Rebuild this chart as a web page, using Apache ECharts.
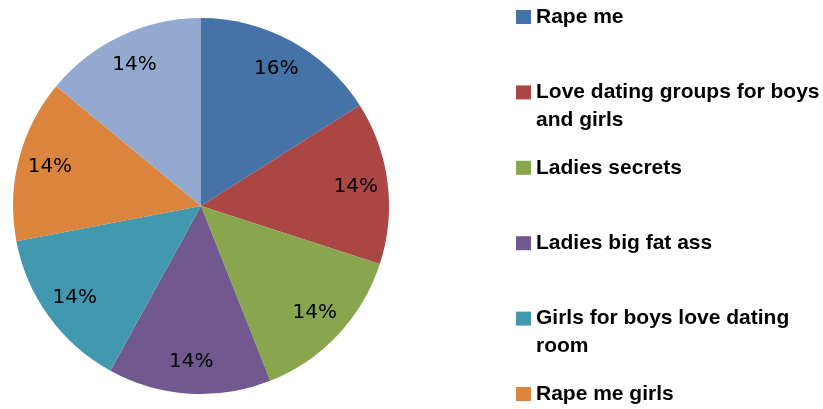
<!DOCTYPE html>
<html><head><meta charset="utf-8">
<script src="https://cdn.jsdelivr.net/npm/echarts@6/dist/echarts.min.js"></script>
<style>html,body{margin:0;padding:0;background:#fff}#c{width:823px;height:409px}</style>
</head><body><div id="c"></div>
<script>
var categories = ['Rape me','Love dating groups for boys and girls','Ladies secrets','Ladies big fat ass','Girls for boys love dating room','Rape me girls','(unlabelled)'];
var values = [16,14,14,14,14,14,14];
var legendNames = categories.slice(0,6);
var legendText = {
  'Love dating groups for boys and girls': '\nLove dating groups for boys\nand girls',
  'Girls for boys love dating room': '\nGirls for boys love dating\nroom'
};
var colors = ['#4572A7','#AA4643','#89A54E','#71588F','#4198AF','#DB843D','#93A9CF'];

var data = categories.map(function(n,i){return {name:n,value:values[i]};});
var chart = echarts.init(document.getElementById('c'));
var legends = legendNames.map(function(n,i){
  var two = !!legendText[n];
  var center = 17 + i*75.4;
  return {
    data:[n], orient:'vertical', left:516, top: center - (two?42:14),
    itemWidth:15, itemHeight:14, itemGap:0, icon:'rect', selectedMode:false,
    padding:0,
    formatter:function(x){return legendText[x]||x;},
    textStyle:{fontFamily:'Liberation Sans',fontWeight:'bold',fontSize:21,color:'#000',lineHeight:28}
  };
});
chart.setOption({
  animation:false,
  color:colors,
  legend:legends,
  series:[
    {type:'pie',center:[201,206],radius:[0,188],startAngle:90,clockwise:true,
     data:data,label:{show:false},labelLine:{show:false},silent:true},
    {type:'pie',center:[201,206],radius:[118,188],startAngle:90,clockwise:true,
     data:data,itemStyle:{color:'rgba(0,0,0,0)'},silent:true,labelLine:{show:false},
     label:{show:true,position:'inside',formatter:function(p){return p.value+'%';},
       fontFamily:'DejaVu Sans',fontSize:20,color:'#000'}}
  ]
});
</script></body></html>
